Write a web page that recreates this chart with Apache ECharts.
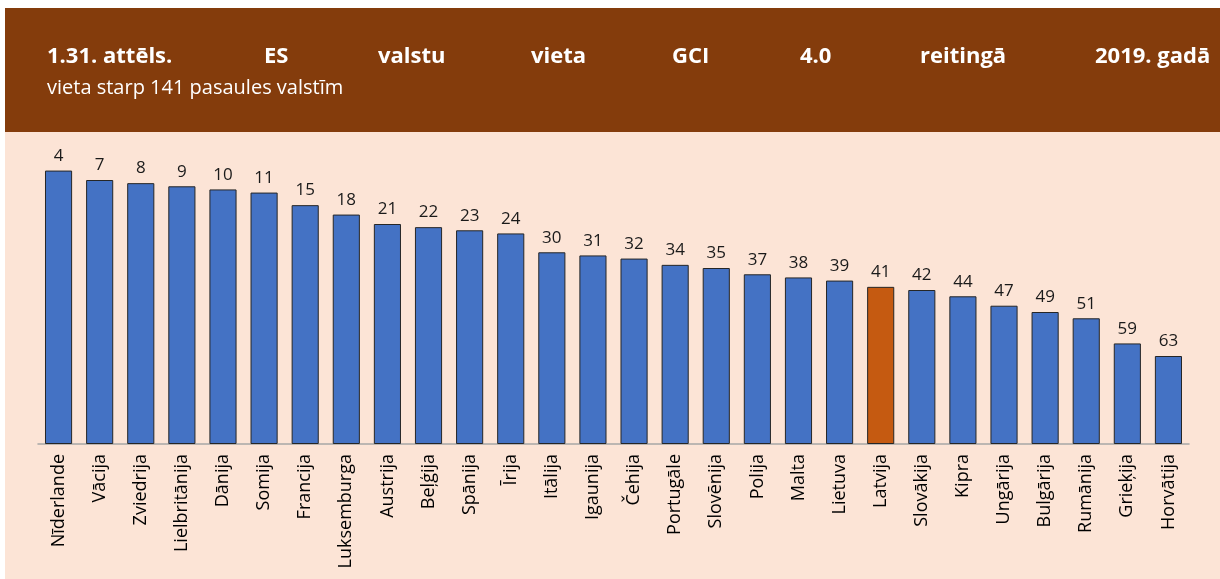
<!DOCTYPE html>
<html>
<head>
<meta charset="utf-8">
<script src="https://cdn.jsdelivr.net/npm/echarts@6/dist/echarts.min.js"></script>
<style>
	html, body { margin: 0; padding: 0; background: #fff; }
	#chart { width: 1220px; height: 579px; }
</style>
</head>
<body>
<div id="chart"></div>
<script>
var countries = ['Nīderlande', 'Vācija', 'Zviedrija', 'Lielbritānija', 'Dānija', 'Somija', 'Francija', 'Luksemburga', 'Austrija', 'Beļģija', 'Spānija', 'Īrija', 'Itālija', 'Igaunija', 'Čehija', 'Portugāle', 'Slovēnija', 'Polija', 'Malta', 'Lietuva', 'Latvija', 'Slovākija', 'Kipra', 'Ungārija', 'Bulgārija', 'Rumānija', 'Grieķija', 'Horvātija'];
var ranks = [4, 7, 8, 9, 10, 11, 15, 18, 21, 22, 23, 24, 30, 31, 32, 34, 35, 37, 38, 39, 41, 42, 44, 47, 49, 51, 59, 63];
// rank axis is reversed: bar height = RANK_BASE - rank
var RANK_BASE = 91;
var highlight = 'Latvija';

var titleWords = ['1.31. attēls.', 'ES', 'valstu', 'vieta', 'GCI', '4.0', 'reitingā', '2019. gadā'];
var subtitle = 'vieta starp 141 pasaules valstīm';

var myChart = echarts.init(document.getElementById('chart'));

var wordX = [47, 264, 378, 531, 672, 800, 920, 1095];
var graphics = [{
	type: 'rect',
	shape: { x: 5, y: 8, width: 1215, height: 124 },
	style: { fill: '#843c0c' },
	silent: true,
	z: -10
}, {
	type: 'rect',
	shape: { x: 5, y: 132, width: 1215, height: 447 },
	style: { fill: '#fce4d6' },
	silent: true,
	z: -10
}];
titleWords.forEach(function(w, i) {
	graphics.push({
		type: 'text',
		x: wordX[i],
		y: 57,
		style: {
			text: w,
			fill: '#fff',
			font: 'bold 22px "Open Sans"',
			verticalAlign: 'middle'
		}
	});
});
graphics.push({
	type: 'text',
	x: 47,
	y: 88,
	style: {
		text: subtitle,
		fill: '#fff',
		font: '20px "Open Sans"',
		verticalAlign: 'middle'
	}
});

var option = {
	backgroundColor: '#fff',
	animation: false,
	textStyle: { fontFamily: 'Open Sans' },
	graphic: graphics,
	grid: {
		left: 38,
		right: 31,
		top: 158,
		bottom: 135
	},
	xAxis: {
		type: 'category',
		data: countries,
		axisLine: { lineStyle: { color: '#a6a6a6', width: 1.5 } },
		axisTick: { show: false },
		axisLabel: {
			rotate: 90,
			interval: 0,
			margin: 10,
			color: '#000',
			fontSize: 18
		}
	},
	yAxis: {
		type: 'value',
		min: 0,
		max: RANK_BASE,
		show: false,
		splitLine: { show: false }
	},
	series: [{
		type: 'bar',
		barCategoryGap: '34%',
		data: ranks.map(function(r, i) {
			return {
				value: RANK_BASE - r,
				itemStyle: {
					color: countries[i] === highlight ? '#c55a11' : '#4472c4'
				}
			};
		}),
		itemStyle: {
			borderColor: '#262626',
			borderWidth: 1
		},
		label: {
			show: true,
			position: 'top',
			distance: 6,
			color: '#1a1a1a',
			fontSize: 17,
			formatter: function(p) {
				return ranks[p.dataIndex];
			}
		}
	}]
};
myChart.setOption(option);
</script>
</body>
</html>
